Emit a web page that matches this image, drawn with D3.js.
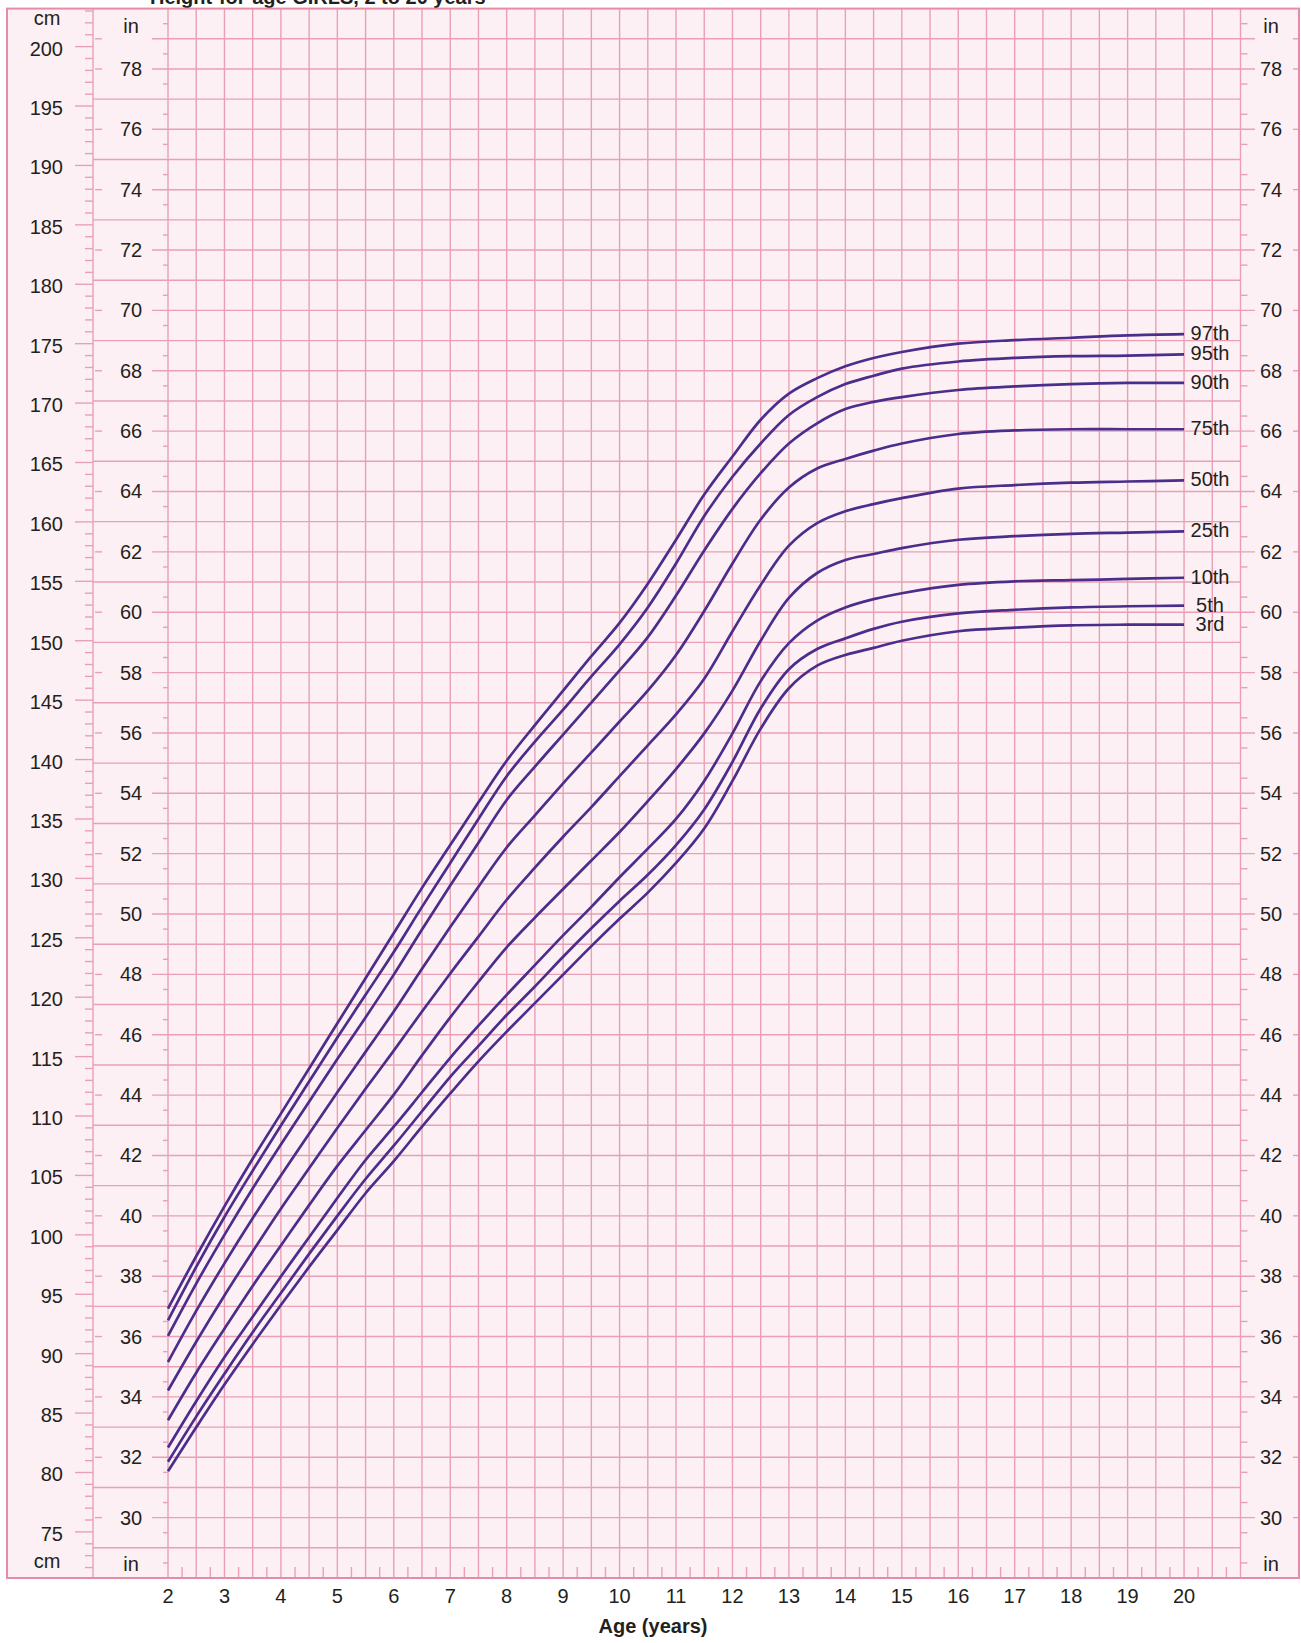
<!DOCTYPE html>
<html><head><meta charset="utf-8">
<script src="https://cdn.jsdelivr.net/npm/d3@7"></script>
<style>
body{margin:0;background:#fff}
svg{display:block}
text{font-family:"Liberation Sans",Arial,Helvetica,sans-serif;fill:#231f20}
</style>
</head><body>
<svg id="chart" width="1301" height="1643"></svg>
<script>
// ---- data (cm) ----
const ages = [2,2.5,3,3.5,4,4.5,5,5.5,6,6.5,7,7.5,8,8.5,9,9.5,10,10.5,11,11.5,12,12.5,13,13.5,14,14.5,15,16,17,18,19,20];
const p97 = [93.8,98.2,102.4,106.4,110.2,114.0,117.8,121.6,125.4,129.2,132.8,136.4,139.9,142.9,145.8,148.7,151.5,154.8,158.5,162.3,165.5,168.6,170.8,172.1,173.1,173.8,174.3,175.0,175.3,175.5,175.7,175.8];
const p95 = [92.8,97.3,101.5,105.4,109.2,112.9,116.6,120.2,123.8,127.6,131.3,135.0,138.6,141.5,144.2,147.0,149.7,152.8,156.5,160.5,163.8,166.6,169.0,170.5,171.6,172.3,172.9,173.5,173.8,173.95,174.0,174.1];
const p90 = [91.5,95.9,100.0,103.9,107.6,111.2,114.8,118.3,121.9,125.7,129.4,133.0,136.6,139.4,142.1,144.8,147.5,150.3,153.8,157.6,161.1,164.1,166.6,168.3,169.5,170.1,170.5,171.1,171.4,171.6,171.7,171.7];
const p75 = [89.3,93.6,97.6,101.4,105.0,108.5,112.0,115.4,118.8,122.4,125.9,129.3,132.6,135.3,138.0,140.6,143.2,145.8,148.8,152.5,156.5,160.2,162.9,164.5,165.3,166.0,166.6,167.4,167.7,167.8,167.8,167.8];
const p50 = [86.9,91.0,94.9,98.6,102.2,105.6,109.0,112.3,115.5,118.8,122.0,125.1,128.2,130.9,133.5,136.0,138.6,141.2,143.8,146.8,150.8,154.7,158.0,159.9,160.9,161.5,162.0,162.8,163.1,163.3,163.4,163.5];
const p25 = [84.4,88.4,92.1,95.7,99.1,102.5,105.8,108.8,111.8,115.1,118.3,121.3,124.2,126.7,129.1,131.5,133.9,136.5,139.2,142.2,145.8,150.0,153.6,155.7,156.8,157.3,157.8,158.5,158.8,159.0,159.1,159.2];
const p10 = [82.1,86.0,89.7,93.1,96.5,99.8,103.1,106.3,109.1,112.0,114.9,117.6,120.2,122.7,125.2,127.6,130.1,132.5,135.0,138.2,142.2,146.6,149.8,151.7,152.8,153.5,154.0,154.7,155.0,155.1,155.2,155.3];
const p5  = [80.9,84.7,88.3,91.8,95.1,98.4,101.6,104.7,107.5,110.4,113.3,115.9,118.5,120.9,123.4,125.8,128.1,130.3,132.8,135.8,139.8,144.3,147.6,149.3,150.2,151.0,151.6,152.3,152.6,152.8,152.9,152.95];
const p3  = [80.1,83.8,87.4,90.8,94.1,97.3,100.4,103.5,106.2,109.1,111.9,114.6,117.1,119.5,121.9,124.3,126.6,128.8,131.3,134.2,138.2,142.6,146.0,147.9,148.8,149.4,150.0,150.8,151.1,151.3,151.35,151.35];
const percentileNames = ["97th","95th","90th","75th","50th","25th","10th","5th","3rd"];
const seriesValues = [p97,p95,p90,p75,p50,p25,p10,p5,p3];
const cmTickLabels = d3.range(75, 201, 5);
const inchTickLabels = d3.range(30, 79, 2);
const ageTickLabels = d3.range(2, 21, 1);
const titleText = "Height-for-age GIRLS, 2 to 20 years";
const xTitle = "Age (years)";

// ---- layout ----
const IN = 2.54;
const svg = d3.select("#chart");
const x = d3.scaleLinear().domain([2, 21]).range([168, 1240.5]);
const y = d3.scaleLinear().domain([28*IN, 80*IN]).range([1578, 8.6]);
const yIn = v => y(v*IN);
const BG = "#fdf0f4", GRID = "#e9a0b5", BORDER = "#e68ca7", LINE = "#4b2d8c";
const leftEdge = 7, rightEdge = 1299, cmCol = 93;
const yTop = yIn(80), yBottom = yIn(28);

// title (cut off at the top in the reference)
svg.append("text").attr("x", 150).attr("y", 4).attr("font-size", 20).attr("font-weight", "bold").text(titleText);

// frame
svg.append("rect").attr("x", leftEdge).attr("y", yTop).attr("width", rightEdge-leftEdge).attr("height", yBottom-yTop)
  .attr("fill", BG).attr("stroke", "none");

const g = svg.append("g").attr("stroke", GRID).attr("stroke-width", 1.4).attr("fill", "none");
d3.range(2, 21.001, 0.5).forEach(a => {
  g.append("line").attr("x1", x(a)).attr("x2", x(a)).attr("y1", yTop).attr("y2", yBottom);
});
g.append("line").attr("x1", cmCol).attr("x2", cmCol).attr("y1", yTop).attr("y2", yBottom);
d3.range(29, 80).forEach(v => {
  const yy = yIn(v);
  const evenType = (v % 2 === 0) || v === 79;
  if (evenType) {
    g.append("line").attr("x1", 152).attr("x2", 1255).attr("y1", yy).attr("y2", yy);
    g.append("line").attr("x1", 95).attr("x2", 102).attr("y1", yy).attr("y2", yy);
    g.append("line").attr("x1", 1293).attr("x2", rightEdge).attr("y1", yy).attr("y2", yy);
  } else {
    g.append("line").attr("x1", cmCol).attr("x2", x(21)).attr("y1", yy).attr("y2", yy);
  }
});
d3.range(28.5, 80, 1).forEach(v => {
  const yy = yIn(v);
  g.append("line").attr("x1", x(2)-5).attr("x2", x(2)).attr("y1", yy).attr("y2", yy);
  g.append("line").attr("x1", x(21)).attr("x2", x(21)+7).attr("y1", yy).attr("y2", yy);
});
d3.range(72, 204, 1).forEach(c => {
  const yy = y(c);
  g.append("line").attr("x1", c % 5 === 0 ? 75 : 85).attr("x2", cmCol).attr("y1", yy).attr("y2", yy);
});
d3.range(2.25, 21, 0.5).forEach(a => {
  g.append("line").attr("x1", x(a)).attr("x2", x(a)).attr("y1", yBottom).attr("y2", yBottom-11);
});
svg.append("rect").attr("x", leftEdge).attr("y", yTop).attr("width", rightEdge-leftEdge).attr("height", yBottom-yTop)
  .attr("fill", "none").attr("stroke", BORDER).attr("stroke-width", 2);

// labels
const lab = svg.append("g").attr("font-size", 20);
cmTickLabels.forEach(c => {
  lab.append("text").attr("x", 63).attr("y", y(c)+2).attr("text-anchor", "end").attr("dominant-baseline", "central").text(c);
});
inchTickLabels.forEach(v => {
  lab.append("text").attr("x", 131).attr("y", yIn(v)).attr("text-anchor", "middle").attr("dominant-baseline", "central").text(v);
  lab.append("text").attr("x", 1271).attr("y", yIn(v)).attr("text-anchor", "middle").attr("dominant-baseline", "central").text(v);
});
lab.append("text").attr("x", 47).attr("y", 25).attr("text-anchor", "middle").text("cm");
lab.append("text").attr("x", 47).attr("y", 1568).attr("text-anchor", "middle").text("cm");
[131, 1271].forEach(cx => {
  lab.append("text").attr("x", cx).attr("y", 33).attr("text-anchor", "middle").text("in");
  lab.append("text").attr("x", cx).attr("y", 1571).attr("text-anchor", "middle").text("in");
});
ageTickLabels.forEach(a => {
  lab.append("text").attr("x", x(a)).attr("y", 1603).attr("text-anchor", "middle").text(a);
});
svg.append("text").attr("x", 653).attr("y", 1633).attr("text-anchor", "middle").attr("font-size", 20).attr("font-weight", "bold").text(xTitle);

// curves
const line = d3.line().x((d, i) => x(ages[i])).y(d => y(d)).curve(d3.curveCatmullRom.alpha(0.5));
const cg = svg.append("g");
seriesValues.forEach((vals, k) => {
  cg.append("path").attr("d", line(vals)).attr("fill", "none").attr("stroke", LINE).attr("stroke-width", 2.7);
  lab.append("text").attr("x", 1210).attr("y", y(vals[vals.length-1]) - 1).attr("text-anchor", "middle")
    .attr("dominant-baseline", "central").text(percentileNames[k]);
});
</script>
</body></html>
